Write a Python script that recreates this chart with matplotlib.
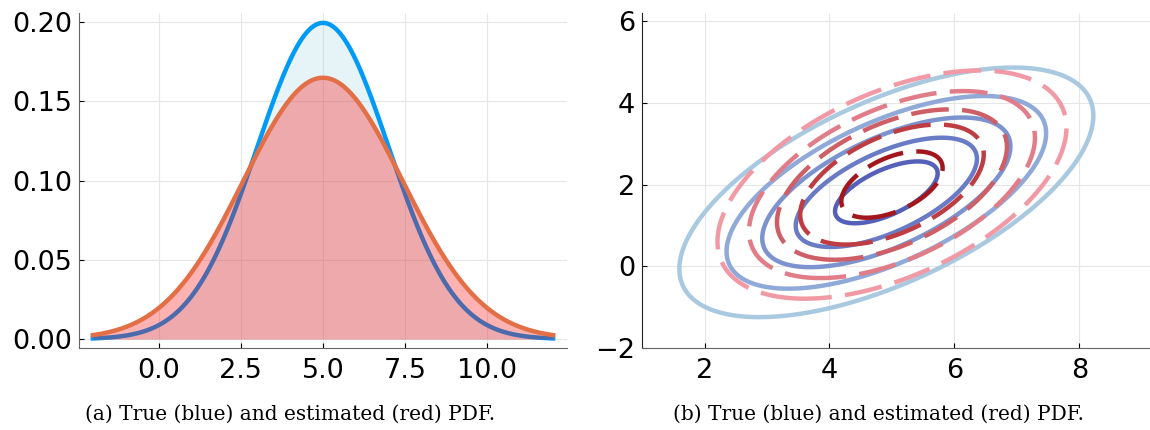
import numpy as np
import matplotlib
matplotlib.use("Agg")
import matplotlib.pyplot as plt

# --- left panel: 1D normal pdfs (true vs estimated)
x_range = (-2.0, 12.0)
true_mean, true_std = 5.0, 2.0
est_mean, est_std = 5.0, 2.42

# --- right panel: 2D normal contours
true_mu = [4.91, 1.81]
true_cov = [[3.2, 1.81], [1.81, 2.72]]
true_levels = [0.18, 0.36, 0.54, 0.72, 0.90]      # fraction of peak density
est_mu = [5.0, 2.0]
est_cov = [[2.4, 1.2], [1.2, 2.4]]
est_levels = [0.197, 0.336, 0.494, 0.638, 0.872]

blue_cols = ['#a9c9e1', '#8fa9d8', '#7c93cf', '#6a7bc6', '#5560b8']
red_cols = ['#f19aa6', '#e07d88', '#cf5f67', '#bd3d43', '#a3171c']

captions = ["(a) True (blue) and estimated (red) PDF.",
            "(b) True (blue) and estimated (red) PDF."]


def pdf1(x, m, s):
    return np.exp(-0.5 * ((x - m) / s) ** 2) / (s * np.sqrt(2 * np.pi))


def pdf2(X, Y, mu, cov):
    cov = np.array(cov)
    inv = np.linalg.inv(cov)
    dx, dy = X - mu[0], Y - mu[1]
    q = inv[0, 0] * dx * dx + 2 * inv[0, 1] * dx * dy + inv[1, 1] * dy * dy
    return np.exp(-0.5 * q) / (2 * np.pi * np.sqrt(np.linalg.det(cov)))


def style(ax):
    for s in ['top', 'right']:
        ax.spines[s].set_visible(False)
    ax.grid(True, color='#e6e6e6', lw=0.8)
    ax.set_axisbelow(True)
    ax.tick_params(direction='in', length=3.5, width=0.8, labelsize=19.5)
    ax.tick_params(axis='x', pad=7)
    ax.tick_params(axis='y', pad=5)


fig = plt.figure(figsize=(11.5, 4.3), dpi=100)
ax1 = fig.add_axes([0.0687, 0.1907, 0.4243, 0.7791])
ax2 = fig.add_axes([0.5583, 0.1907, 0.4417, 0.7791])

xs = np.linspace(*x_range, 400)
yt = pdf1(xs, true_mean, true_std)
ye = pdf1(xs, est_mean, est_std)
ax1.fill_between(xs, 0, yt, color='lightblue', alpha=0.3, lw=0, zorder=3)
ax1.plot(xs, yt, color='#009af9', lw=3.2, zorder=4)
ax1.fill_between(xs, 0, ye, color='red', alpha=0.3, lw=0, zorder=5)
ax1.plot(xs, ye, color='#e26f46', lw=3.2, zorder=6)
ax1.set_xlim(-2.42, 12.42)
ax1.set_ylim(-0.0056, 0.2057)
ax1.set_xticks([0, 2.5, 5, 7.5, 10])
ax1.set_xticklabels(['0.0', '2.5', '5.0', '7.5', '10.0'])
ax1.set_yticks([0, 0.05, 0.10, 0.15, 0.20])
ax1.set_yticklabels(['0.00', '0.05', '0.10', '0.15', '0.20'])
style(ax1)
for s in ['left', 'bottom']:
    ax1.spines[s].set_color('#666666')

gx = np.linspace(1, 9.2, 500)
gy = np.linspace(-2, 6.2, 500)
GX, GY = np.meshgrid(gx, gy)
Zt = pdf2(GX, GY, true_mu, true_cov)
Ze = pdf2(GX, GY, est_mu, est_cov)
pt = pdf2(np.array(true_mu[0]), np.array(true_mu[1]), true_mu, true_cov)
pe = pdf2(np.array(est_mu[0]), np.array(est_mu[1]), est_mu, est_cov)
ax2.contour(GX, GY, Zt, levels=[f * pt for f in true_levels], colors=blue_cols,
            linewidths=3.2)
cs = ax2.contour(GX, GY, Ze, levels=[f * pe for f in est_levels], colors=red_cols,
                 linewidths=3.2)
cs.set_linestyle((0, (8.5, 3.0)))
ax2.set_xlim(1.0, 9.13)
ax2.set_ylim(-2.0, 6.2)
ax2.set_xticks([2, 4, 6, 8])
ax2.set_yticks([-2, 0, 2, 4, 6])
style(ax2)
ax2.spines['left'].set_color('#222222')
ax2.spines['bottom'].set_color('#666666')

fig.text(0.252, 0.036, captions[0], ha='center', va='center',
         family='DejaVu Serif', fontsize=14.5)
fig.text(0.764, 0.036, captions[1], ha='center', va='center',
         family='DejaVu Serif', fontsize=14.5)

fig.savefig('out.png', dpi=100)
